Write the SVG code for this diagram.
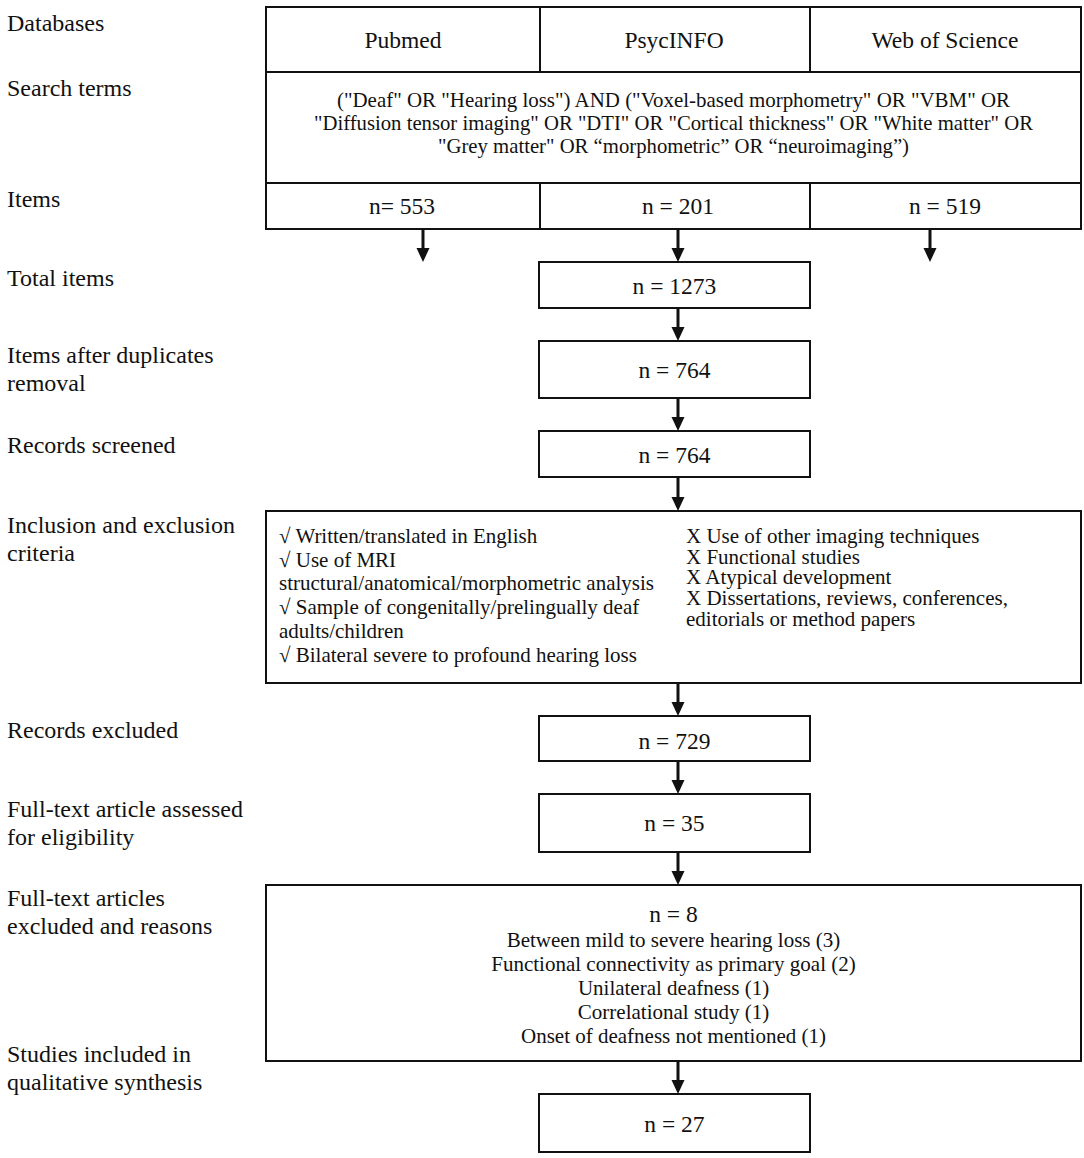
<svg xmlns="http://www.w3.org/2000/svg" width="1084" height="1158" viewBox="0 0 1084 1158">
<style>
text{font-family:"Liberation Serif","Times New Roman",serif;fill:#111;}
.lbl{font-size:24px;}
.t{font-size:23.5px;text-anchor:middle;}
.q{font-size:21px;text-anchor:middle;}
.s{font-size:21px;}
.sc{font-size:21px;text-anchor:middle;}
.box{fill:#fff;stroke:#111;stroke-width:2;}
.ln{stroke:#111;stroke-width:2;fill:none;}
.arr{stroke:#111;stroke-width:3;fill:none;marker-end:url(#ah);}
</style>
<defs>
<marker id="ah" markerUnits="userSpaceOnUse" markerWidth="14" markerHeight="14" viewBox="0 0 14 13" refX="2" refY="6.5" orient="auto">
<path d="M0,0 L14,6.5 L0,13 Z" fill="#111"/>
</marker>
</defs>
<rect width="1084" height="1158" fill="#fff"/>
<g id="labels">
<text class="lbl" x="7" y="31">Databases</text>
<text class="lbl" x="7" y="96">Search terms</text>
<text class="lbl" x="7" y="207">Items</text>
<text class="lbl" x="7" y="286">Total items</text>
<text class="lbl" x="7" y="363">Items after duplicates</text>
<text class="lbl" x="7" y="391">removal</text>
<text class="lbl" x="7" y="453">Records screened</text>
<text class="lbl" x="7" y="533">Inclusion and exclusion</text>
<text class="lbl" x="7" y="561">criteria</text>
<text class="lbl" x="7" y="738">Records excluded</text>
<text class="lbl" x="7" y="817">Full-text article assessed</text>
<text class="lbl" x="7" y="845">for eligibility</text>
<text class="lbl" x="7" y="906">Full-text articles</text>
<text class="lbl" x="7" y="934">excluded and reasons</text>
<text class="lbl" x="7" y="1062">Studies included in</text>
<text class="lbl" x="7" y="1090">qualitative synthesis</text>
</g>
<g id="table">
<rect class="box" x="266" y="7" width="815" height="222"/>
<line class="ln" x1="266" y1="72" x2="1081" y2="72"/>
<line class="ln" x1="266" y1="183" x2="1081" y2="183"/>
<line class="ln" x1="540" y1="7" x2="540" y2="72"/>
<line class="ln" x1="810" y1="7" x2="810" y2="72"/>
<line class="ln" x1="540" y1="183" x2="540" y2="229"/>
<line class="ln" x1="810" y1="183" x2="810" y2="229"/>
<text class="t" x="403" y="48">Pubmed</text>
<text class="t" x="674" y="48">PsycINFO</text>
<text class="t" x="945" y="48">Web of Science</text>
<text class="q" x="673.5" y="107" textLength="673" lengthAdjust="spacingAndGlyphs">("Deaf" OR "Hearing loss") AND ("Voxel-based morphometry" OR "VBM" OR</text>
<text class="q" x="673.5" y="130" textLength="719" lengthAdjust="spacingAndGlyphs">"Diffusion tensor imaging" OR "DTI" OR "Cortical thickness" OR "White matter" OR</text>
<text class="q" x="673.5" y="153" textLength="471" lengthAdjust="spacingAndGlyphs">"Grey matter" OR “morphometric” OR “neuroimaging”)</text>
<text class="t" x="402" y="214">n= 553</text>
<text class="t" x="678" y="214">n = 201</text>
<text class="t" x="945" y="214">n = 519</text>
</g>
<g id="n1273">
<rect class="box" x="539" y="262" width="271" height="46"/>
<text class="t" x="674.5" y="294">n = 1273</text>
</g>
<g id="n764a">
<rect class="box" x="539" y="341" width="271" height="57"/>
<text class="t" x="674.5" y="378">n = 764</text>
</g>
<g id="n764b">
<rect class="box" x="539" y="431" width="271" height="46"/>
<text class="t" x="674.5" y="463">n = 764</text>
</g>
<g id="criteria">
<rect class="box" x="266" y="511" width="815" height="172"/>
<text class="s" x="279" y="543">√ Written/translated in English</text>
<text class="s" x="279" y="567">√ Use of MRI</text>
<text class="s" x="279" y="590">structural/anatomical/morphometric analysis</text>
<text class="s" x="279" y="614">√ Sample of congenitally/prelingually deaf</text>
<text class="s" x="279" y="638">adults/children</text>
<text class="s" x="279" y="662">√ Bilateral severe to profound hearing loss</text>
<text class="s" x="686" y="543">X Use of other imaging techniques</text>
<text class="s" x="686" y="564">X Functional studies</text>
<text class="s" x="686" y="584">X Atypical development</text>
<text class="s" x="686" y="605">X Dissertations, reviews, conferences,</text>
<text class="s" x="686" y="626">editorials or method papers</text>
</g>
<g id="n729">
<rect class="box" x="539" y="716" width="271" height="45"/>
<text class="t" x="674.5" y="749">n = 729</text>
</g>
<g id="n35">
<rect class="box" x="539" y="794" width="271" height="58"/>
<text class="t" x="674.5" y="831">n = 35</text>
</g>
<g id="n8">
<rect class="box" x="266" y="885" width="815" height="176"/>
<text class="t" x="673.5" y="922">n = 8</text>
<text class="sc" x="673.5" y="947">Between mild to severe hearing loss (3)</text>
<text class="sc" x="673.5" y="971">Functional connectivity as primary goal (2)</text>
<text class="sc" x="673.5" y="995">Unilateral deafness (1)</text>
<text class="sc" x="673.5" y="1019">Correlational study (1)</text>
<text class="sc" x="673.5" y="1043">Onset of deafness not mentioned (1)</text>
</g>
<g id="n27">
<rect class="box" x="539" y="1094" width="271" height="58"/>
<text class="t" x="674.5" y="1132">n = 27</text>
</g>
<g id="connectors">
<line class="arr" x1="423" y1="230" x2="423" y2="250"/>
<line class="arr" x1="678" y1="230" x2="678" y2="250"/>
<line class="arr" x1="930" y1="230" x2="930" y2="250"/>
<line class="arr" x1="678" y1="309" x2="678" y2="329"/>
<line class="arr" x1="678" y1="399" x2="678" y2="419"/>
<line class="arr" x1="678" y1="478" x2="678" y2="499"/>
<line class="arr" x1="678" y1="684" x2="678" y2="704"/>
<line class="arr" x1="678" y1="762" x2="678" y2="782"/>
<line class="arr" x1="678" y1="853" x2="678" y2="873"/>
<line class="arr" x1="678" y1="1062" x2="678" y2="1082"/>
</g>
</svg>
